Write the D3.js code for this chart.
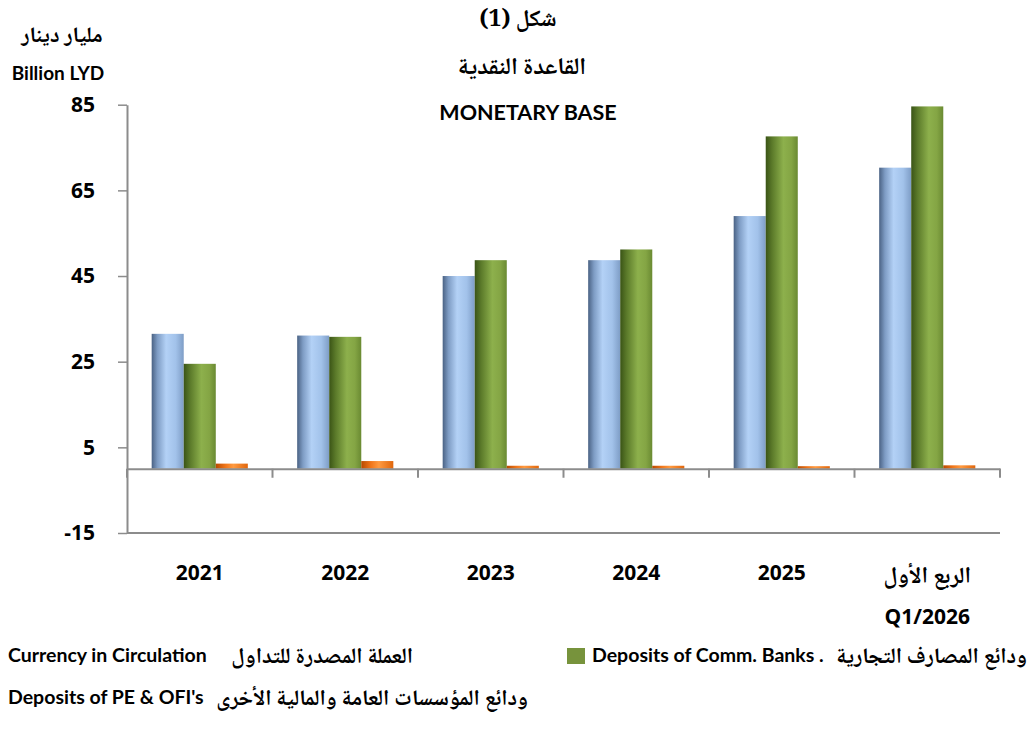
<!DOCTYPE html>
<html>
<head>
<meta charset="utf-8">
<script src="https://cdn.jsdelivr.net/npm/d3@7"></script>
<style>
  body { margin: 0; background: #fff; }
  svg { display: block; }
  .lat { font-family: "Open Sans", "DejaVu Sans", sans-serif; font-weight: bold; fill: #000; }
  .cond { font-family: Lato, "Liberation Sans Narrow", sans-serif; font-weight: bold; fill: #000; }
  .ar { font-family: "Noto Naskh Arabic", "Noto Sans Arabic", "DejaVu Sans", sans-serif; font-weight: bold; fill: #000; }
</style>
</head>
<body>
<div id="chart"></div>
<script>
const categories = ["2021", "2022", "2023", "2024", "2025", "Q1/2026"];
const categoryArabic = ["", "", "", "", "", "الربع الأول"];
const seriesNames = ["currency", "commBanks", "peOfi"];
const currency = [31.5, 31.1, 45.0, 48.7, 59.0, 70.3];
const commBanks = [24.5, 30.8, 48.7, 51.2, 77.6, 84.6];
const peOfi = [1.2, 1.8, 0.7, 0.7, 0.6, 0.8];
const yTicks = [-15, 5, 25, 45, 65, 85];

const width = 1031, height = 746;
const plot = {left: 127, right: 1000, top: 104.7, bottom: 533};

const data = categories.map((c, i) => ({
    cat: c,
    ar: categoryArabic[i],
    values: {currency: currency[i], commBanks: commBanks[i], peOfi: peOfi[i]}
}));

const svg = d3.select("#chart").append("svg")
    .attr("width", width)
    .attr("height", height);

const defs = svg.append("defs");
function cyl(id, stops) {
    const g = defs.append("linearGradient").attr("id", id)
        .attr("x1", "0%").attr("x2", "100%").attr("y1", "0%").attr("y2", "0%");
    stops.forEach(s => g.append("stop").attr("offset", s[0]).attr("stop-color", s[1]));
}
cyl("g-currency", [["0%", "#4a6284"], ["18%", "#7e9cc4"], ["45%", "#b3d1f6"], ["75%", "#a2c2ea"], ["100%", "#7e9dc6"]]);
cyl("g-commBanks", [["0%", "#3a5416"], ["20%", "#5b7a2a"], ["55%", "#8db04c"], ["80%", "#84a544"], ["100%", "#6a8a32"]]);
cyl("g-peOfi", [["0%", "#b84a00"], ["30%", "#f0761a"], ["55%", "#ff9a40"], ["100%", "#e0660c"]]);

const x = d3.scaleBand()
    .domain(categories)
    .range([plot.left, plot.right])
    .padding(0);

const x1 = d3.scaleBand()
    .domain(seriesNames)
    .range([0, x.bandwidth()])
    .paddingInner(0)
    .paddingOuter(0.77);

const y = d3.scaleLinear()
    .domain([-15, 85])
    .range([plot.bottom, plot.top]);

// bars
svg.append("g")
    .selectAll("g")
    .data(data)
    .join("g")
    .attr("transform", d => `translate(${x(d.cat)},0)`)
    .selectAll("rect")
    .data(d => seriesNames.map(s => ({key: s, value: d.values[s]})))
    .join("rect")
        .attr("x", d => x1(d.key))
        .attr("y", d => y(Math.max(0, d.value)))
        .attr("width", x1.bandwidth())
        .attr("height", d => Math.abs(y(d.value) - y(0)))
        .attr("fill", d => `url(#g-${d.key})`);

// y axis
const yAxis = svg.append("g")
    .attr("transform", `translate(${plot.left},0)`)
    .call(d3.axisLeft(y).tickValues(yTicks).tickFormat(d => String(d))
        .tickSize(9).tickPadding(23).tickSizeOuter(0));
yAxis.select(".domain").attr("stroke", "#8c8c8c").attr("stroke-width", 2);
yAxis.selectAll(".tick line").attr("stroke", "#8c8c8c").attr("stroke-width", 1.5);
yAxis.selectAll(".tick text").attr("class", "lat").style("font-size", "21px");

// line at bottom of plot
svg.append("line")
    .attr("x1", plot.left).attr("x2", plot.right)
    .attr("y1", y(-15)).attr("y2", y(-15))
    .attr("stroke", "#8c8c8c").attr("stroke-width", 2);

// category axis through zero
const xAxis = svg.append("g")
    .attr("transform", `translate(0,${y(0)})`)
    .call(d3.axisBottom(x).tickSize(0).tickFormat(""));
xAxis.select(".domain").attr("stroke", "#8c8c8c").attr("stroke-width", 2);
xAxis.selectAll(".tick").remove();
xAxis.selectAll(".sep")
    .data(categories.concat(["end"]))
    .join("line")
    .attr("x1", (d, i) => plot.left + i * x.step())
    .attr("x2", (d, i) => plot.left + i * x.step())
    .attr("y1", 0).attr("y2", 9)
    .attr("stroke", "#8c8c8c").attr("stroke-width", 2);

// category labels
const labels = svg.append("g").selectAll("g")
    .data(data)
    .join("g")
    .attr("transform", d => `translate(${x(d.cat) + x.bandwidth() / 2},0)`);
labels.filter(d => d.ar === "")
    .append("text")
    .attr("class", "lat")
    .attr("y", 573)
    .attr("dy", "0.35em")
    .attr("text-anchor", "middle")
    .style("font-size", "21px")
    .text(d => d.cat);
labels.filter(d => d.ar !== "")
    .append("text")
    .attr("class", "ar")
    .attr("y", 575)
    .attr("dy", "0.35em")
    .attr("text-anchor", "middle")
    .style("font-size", "23px")
    .text(d => d.ar);
labels.filter(d => d.ar !== "")
    .append("text")
    .attr("class", "lat")
    .attr("y", 617)
    .attr("dy", "0.35em")
    .attr("text-anchor", "middle")
    .style("font-size", "21px")
    .text(d => d.cat);

// titles
svg.append("text").attr("class", "ar").attr("x", 518).attr("y", 18).attr("dy", "0.35em")
    .attr("text-anchor", "middle").style("font-size", "23px").text("شكل (1)");
svg.append("text").attr("class", "ar").attr("x", 522).attr("y", 66).attr("dy", "0.35em")
    .attr("text-anchor", "middle").style("font-size", "24px").text("القاعدة النقدية");
svg.append("text").attr("class", "cond").attr("x", 528).attr("y", 112).attr("dy", "0.35em")
    .attr("text-anchor", "middle").style("font-size", "21.5px").text("MONETARY BASE");
svg.append("text").attr("class", "ar").attr("x", 62).attr("y", 34).attr("dy", "0.35em")
    .attr("text-anchor", "middle").style("font-size", "22px").text("مليار دينار");
svg.append("text").attr("class", "cond").attr("x", 58).attr("y", 73).attr("dy", "0.35em")
    .attr("text-anchor", "middle").style("font-size", "19px").text("Billion LYD");

// legend
const legend = svg.append("g");
legend.append("rect")
    .attr("x", 567).attr("y", 648).attr("width", 18).attr("height", 16)
    .attr("fill", "#77933c");
legend.append("text").attr("class", "cond").attr("x", 592).attr("y", 655).attr("dy", "0.35em")
    .style("font-size", "19.5px").text("Deposits of Comm. Banks .");
legend.append("text").attr("class", "ar").attr("x", 1027).attr("y", 655).attr("dy", "0.35em")
    .attr("text-anchor", "end").style("font-size", "22px").text("ودائع المصارف التجارية");
legend.append("text").attr("class", "cond").attr("x", 8).attr("y", 655).attr("dy", "0.35em")
    .style("font-size", "19.5px").text("Currency in Circulation");
legend.append("text").attr("class", "ar").attr("x", 413).attr("y", 655).attr("dy", "0.35em")
    .attr("text-anchor", "end").style("font-size", "22px").text("العملة المصدرة للتداول");
legend.append("text").attr("class", "cond").attr("x", 8).attr("y", 697).attr("dy", "0.35em")
    .style("font-size", "19.5px").text("Deposits of PE & OFI's");
legend.append("text").attr("class", "ar").attr("x", 528).attr("y", 697).attr("dy", "0.35em")
    .attr("text-anchor", "end").style("font-size", "22px").text("ودائع المؤسسات العامة والمالية الأخرى");
</script>
</body>
</html>
